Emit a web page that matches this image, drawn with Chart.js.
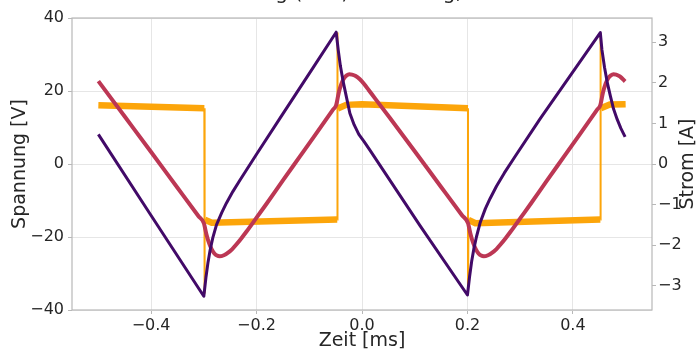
<!DOCTYPE html>
<html>
<head>
<meta charset="utf-8">
<script src="https://cdn.jsdelivr.net/npm/chart.js@4.4.1/dist/chart.umd.min.js"></script>
<style>
  html, body { margin: 0; padding: 0; background: #fff; }
  #wrap { width: 699px; height: 351px; }
</style>
</head>
<body>
<div id="wrap"><canvas id="linechart"></canvas></div>
<script>
// Rechteckspannung (orange), linke Achse [V]
const orangeTime = [-0.500, -0.299, -0.299, -0.298, -0.285, -0.047, -0.047, -0.046, -0.030, 0.000,
                    0.201, 0.201, 0.202, 0.215, 0.452, 0.452, 0.453, 0.470, 0.500];
const orangeVolt = [16.1, 15.3, -35.5, -15.3, -16.1, -15.2, 36.0, 15.2, 16.2, 16.4,
                    15.3, -35.3, -15.3, -16.2, -15.2, 35.8, 15.3, 16.3, 16.4];

// zweite Spannung (rot), linke Achse [V]
const redTime = [-0.500, -0.450, -0.400, -0.350, -0.310, -0.300, -0.295, -0.290, -0.285, -0.280,
                 -0.275, -0.270, -0.262, -0.254, -0.246, -0.238, -0.229, -0.219, -0.200, -0.181,
                 -0.150, -0.118, -0.090, -0.070, -0.055, -0.049, -0.044, -0.039, -0.034, -0.029,
                 -0.024, -0.019, -0.012, -0.004, 0.004, 0.013, 0.025, 0.053, 0.100, 0.150,
                 0.190, 0.201, 0.206, 0.211, 0.216, 0.221, 0.226, 0.231, 0.239, 0.247,
                 0.255, 0.263, 0.272, 0.282, 0.301, 0.320, 0.351, 0.383, 0.411, 0.431,
                 0.446, 0.452, 0.457, 0.462, 0.467, 0.472, 0.477, 0.482, 0.489, 0.499];
const redVolt = [22.7, 13.0, 3.3, -6.5, -14.3, -16.2, -19.3, -21.7, -23.4, -24.5,
                 -25.1, -25.3, -25.0, -24.3, -23.3, -22.0, -20.4, -18.5, -14.7, -10.9,
                 -4.5, 2.0, 7.7, 11.8, 14.9, 16.1, 19.6, 22.0, 23.5, 24.3,
                 24.6, 24.5, 24.1, 23.2, 21.9, 20.2, 17.9, 12.6, 3.5, -6.3,
                 -14.1, -16.2, -19.3, -21.7, -23.4, -24.5, -25.1, -25.3, -25.0, -24.3,
                 -23.3, -22.0, -20.4, -18.5, -14.7, -10.9, -4.5, 2.0, 7.7, 11.8,
                 14.9, 16.1, 19.6, 22.0, 23.5, 24.3, 24.6, 24.5, 24.0, 22.6];

// Strom (lila), rechte Achse [A]
const purpleTime = [-0.500, -0.400, -0.300, -0.296, -0.292, -0.288, -0.283, -0.276, -0.266, -0.257,
                    -0.245, -0.231, -0.200, -0.156, -0.093, -0.049, -0.045, -0.041, -0.036, -0.030,
                    -0.023, -0.015, -0.006, 0.004, 0.015, 0.110, 0.200, 0.204, 0.208, 0.212,
                    0.217, 0.224, 0.234, 0.243, 0.255, 0.270, 0.290, 0.338, 0.452, 0.455,
                    0.460, 0.465, 0.471, 0.477, 0.484, 0.491, 0.499];
const purpleAmp = [0.73, -1.27, -3.26, -2.80, -2.42, -2.12, -1.82, -1.50, -1.20, -0.96,
                   -0.68, -0.39, 0.24, 1.12, 2.37, 3.25, 2.80, 2.42, 2.05, 1.68,
                   1.25, 0.97, 0.73, 0.55, 0.34, -1.52, -3.23, -2.78, -2.40, -2.10,
                   -1.80, -1.45, -1.10, -0.85, -0.55, -0.22, 0.18, 1.12, 3.24, 2.82,
                   2.38, 2.02, 1.68, 1.36, 1.10, 0.88, 0.67];

const xTicks = [-0.4, -0.2, 0.0, 0.2, 0.4];
const xTickLabels = ['\u22120.4', '\u22120.2', '0.0', '0.2', '0.4'];
const yTicks = [-40, -20, 0, 20, 40];
const yTickLabels = ['\u221240', '\u221220', '0', '20', '40'];
const y1Ticks = [-3, -2, -1, 0, 1, 2, 3];
const y1TickLabels = ['\u22123', '\u22122', '\u22121', '0', '1', '2', '3'];

const titleText = 'Messung (RLC) Belastung, 2 kHz';

const zip = (xs, ys) => xs.map((x, i) => ({x: x, y: ys[i]}));

const FONT = "'DejaVu Sans', sans-serif";
Chart.defaults.font.family = FONT;
Chart.defaults.color = '#262626';

const extras = {
    id: 'extras',
    beforeDatasetsDraw(chart) {
        const {ctx, chartArea: a} = chart;
        ctx.save();
        ctx.strokeStyle = '#b8b8b8';
        ctx.lineWidth = 1.2;
        ctx.strokeRect(a.left, a.top, a.right - a.left, a.bottom - a.top);
        ctx.restore();
    },
    afterDraw(chart) {
        const {ctx, chartArea: a} = chart;
        ctx.save();
        ctx.fillStyle = '#262626';
        ctx.font = '20px ' + FONT;
        ctx.textAlign = 'center';
        ctx.textBaseline = 'alphabetic';
        ctx.fillText(titleText, (a.left + a.right) / 2, -1.5);
        ctx.translate(688, (a.top + a.bottom) / 2);
        ctx.rotate(-Math.PI / 2);
        ctx.font = '19px ' + FONT;
        ctx.textBaseline = 'middle';
        ctx.fillText('Strom [A]', 0, 0);
        ctx.restore();
    }
};

const ctx = document.getElementById('linechart').getContext('2d');
const linechart = new Chart(ctx, {
    type: 'line',
    data: {
        datasets: [
            {
                label: 'Strom',
                data: zip(purpleTime, purpleAmp),
                yAxisID: 'y1',
                borderColor: '#420a68',
                borderWidth: 3,
                pointRadius: 0,
                tension: 0,
                borderJoinStyle: 'round'
            },
            {
                label: 'Spannung 2',
                data: zip(redTime, redVolt),
                yAxisID: 'y',
                borderColor: '#bc3754',
                borderWidth: 4,
                pointRadius: 0,
                cubicInterpolationMode: 'monotone'
            },
            {
                label: 'Spannung 1',
                data: zip(orangeTime, orangeVolt),
                yAxisID: 'y',
                borderColor: '#fca50a',
                borderWidth: 6.5,
                pointRadius: 0,
                tension: 0,
                segment: {
                    borderWidth: c => Math.abs(c.p1.parsed.x - c.p0.parsed.x) < 0.0015 ? 2 : 6.5
                }
            }
        ]
    },
    options: {
        responsive: true,
        maintainAspectRatio: false,
        animation: false,
        events: [],
        layout: {padding: {top: 18, left: 0, right: 0, bottom: 0}},
        plugins: {
            legend: {display: false},
            tooltip: {enabled: false}
        },
        scales: {
            x: {
                type: 'linear',
                min: -0.55,
                max: 0.55,
                afterBuildTicks: s => { s.ticks = xTicks.map(v => ({value: v})); },
                afterFit: s => { s.height = 41; },
                ticks: {
                    callback: (v, i) => xTickLabels[i],
                    font: {size: 16},
                    padding: 2,
                    maxRotation: 0
                },
                grid: {color: '#e6e6e6', tickColor: '#b8b8b8', tickLength: 4},
                border: {display: false},
                title: {
                    display: true,
                    text: 'Zeit [ms]',
                    font: {size: 19, lineHeight: 1.0},
                    padding: {top: 0, bottom: 0}
                }
            },
            y: {
                position: 'left',
                min: -40,
                max: 40,
                afterBuildTicks: s => { s.ticks = yTicks.map(v => ({value: v})); },
                afterFit: s => { s.width = 72; },
                ticks: {
                    callback: (v, i) => yTickLabels[i],
                    font: {size: 16},
                    padding: 4
                },
                grid: {color: '#e6e6e6', tickColor: '#b8b8b8', tickLength: 4},
                border: {display: false},
                title: {
                    display: true,
                    text: 'Spannung [V]',
                    font: {size: 19},
                    padding: {top: 9, bottom: 0}
                }
            },
            y1: {
                position: 'right',
                min: -3.6,
                max: 3.6,
                afterBuildTicks: s => { s.ticks = y1Ticks.map(v => ({value: v})); },
                afterFit: s => { s.width = 47; },
                ticks: {
                    callback: (v, i) => y1TickLabels[i],
                    font: {size: 16},
                    padding: 2
                },
                grid: {drawOnChartArea: false, tickColor: '#b8b8b8', tickLength: 4},
                border: {display: false}
            }
        }
    },
    plugins: [extras]
});
</script>
</body>
</html>
